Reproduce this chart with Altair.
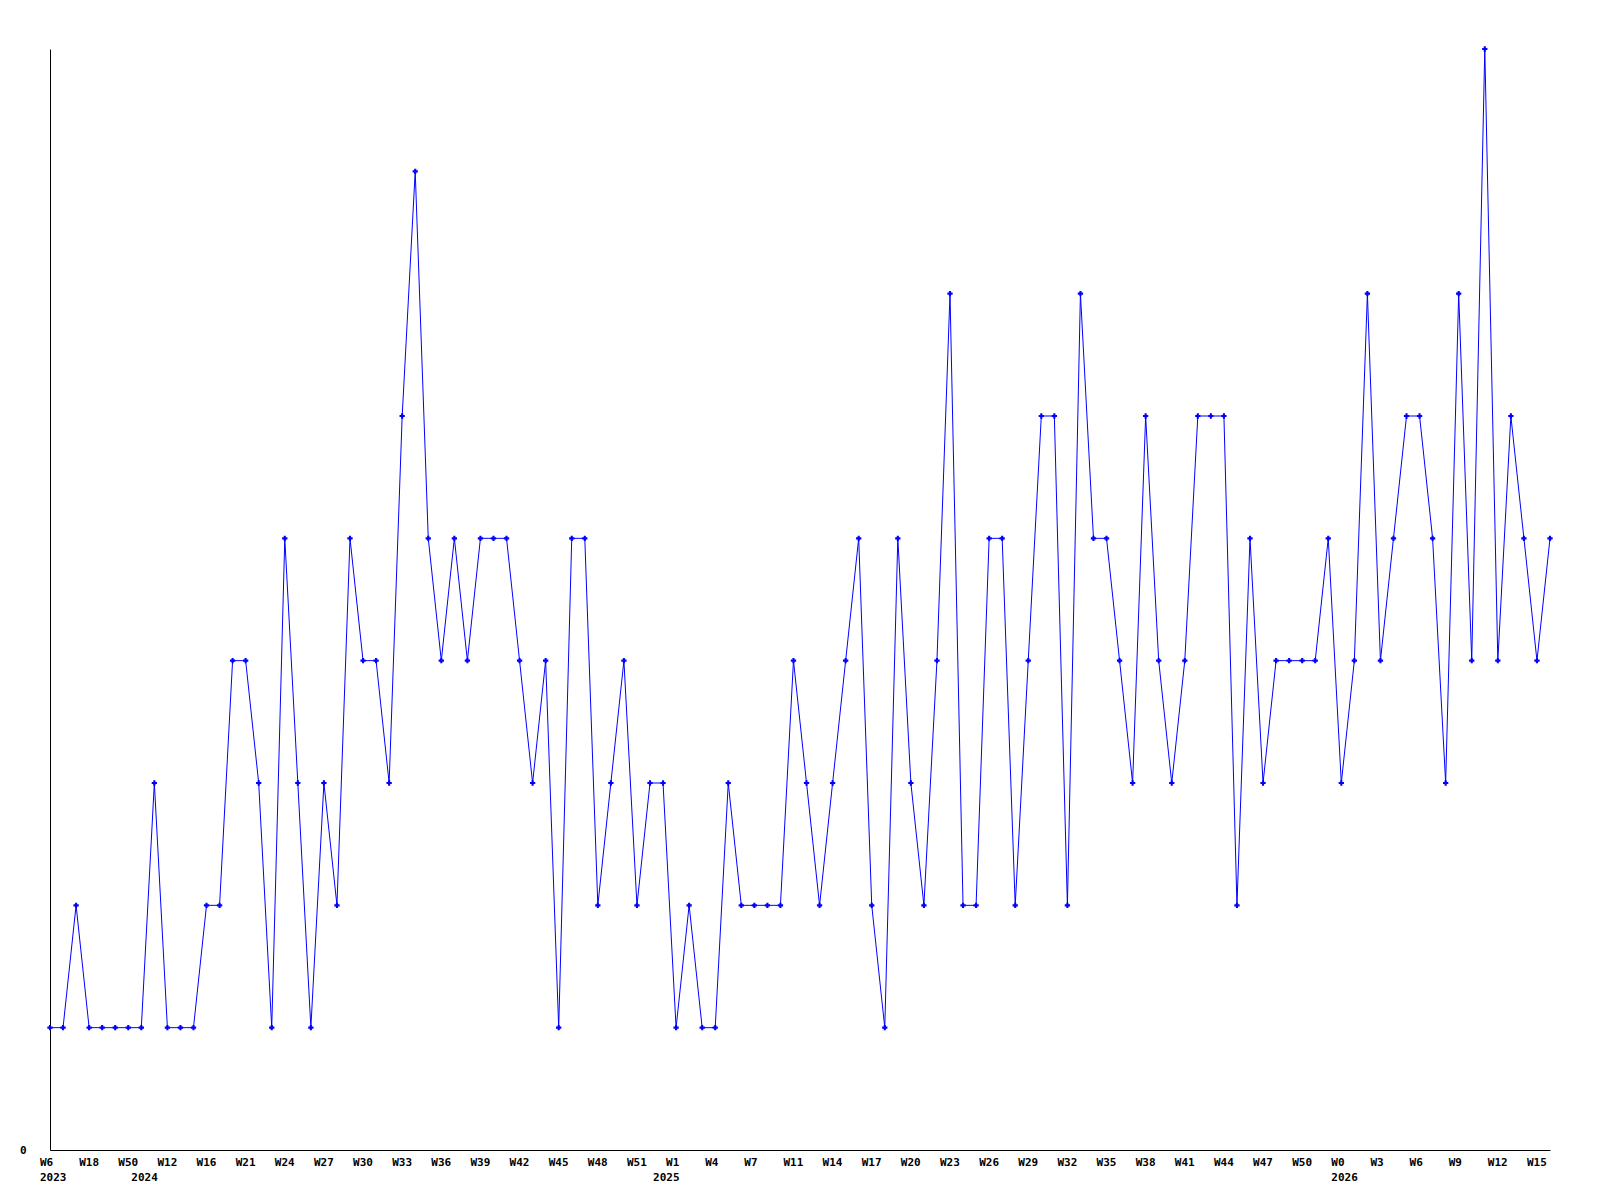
import altair as alt
import pandas as pd

# Weekly counts (one point per week, in order)
values = [1, 1, 2, 1, 1, 1, 1, 1, 3, 1,
          1, 1, 2, 2, 4, 4, 3, 1, 5, 3,
          1, 3, 2, 5, 4, 4, 3, 6, 8, 5,
          4, 5, 4, 5, 5, 5, 4, 3, 4, 1,
          5, 5, 2, 3, 4, 2, 3, 3, 1, 2,
          1, 1, 3, 2, 2, 2, 2, 4, 3, 2,
          3, 4, 5, 2, 1, 5, 3, 2, 4, 7,
          2, 2, 5, 5, 2, 4, 6, 6, 2, 7,
          5, 5, 4, 3, 6, 4, 3, 4, 6, 6,
          6, 2, 5, 3, 4, 4, 4, 4, 5, 3,
          4, 7, 4, 5, 6, 6, 5, 3, 7, 4,
          9, 4, 6, 5, 4, 5]

# Week tick labels, shown on every third point
week_labels = ["W6", "W18", "W50", "W12", "W16", "W21", "W24", "W27", "W30",
               "W33", "W36", "W39", "W42", "W45", "W48", "W51", "W1", "W4",
               "W7", "W11", "W14", "W17", "W20", "W23", "W26", "W29", "W32",
               "W35", "W38", "W41", "W44", "W47", "W50", "W0", "W3", "W6",
               "W9", "W12", "W15"]
label_step = 3

# Year labels and the point index where each year starts
year_labels = ["2023", "2024", "2025", "2026"]
year_index = [0, 7, 47, 99]

n = len(values)
df = pd.DataFrame({"idx": list(range(n)), "count": values})

# Build multi-line tick labels: first line = week, second line = year
lines = {}
for k, w in enumerate(week_labels):
    lines[k * label_step] = [w, ""]
for y, i in zip(year_labels, year_index):
    lines.setdefault(i, ["", ""])
    lines[i][1] = y
tick_vals = sorted(lines.keys())

def js_list(lst):
    return "[" + ",".join("'" + s + "'" for s in lst) + "]"

arr = ["''"] * n
for i, l in lines.items():
    if l[1] == "":
        arr[i] = "'" + l[0] + "'"
    else:
        arr[i] = js_list(l)
label_expr = "[" + ",".join(arr) + "][datum.value]"

font = "DejaVu Sans Mono"
W, H = 1500, 1101

x_scale = alt.Scale(domain=[0, n - 1], nice=False, zero=False)
y_scale = alt.Scale(domain=[0, 9], nice=False)

x_axis = alt.Axis(
    values=tick_vals, labelExpr=label_expr, title=None, grid=False, ticks=False,
    domainColor="black", domainWidth=1,
    labelFont=font, labelFontSize=11, labelFontWeight="bold", labelColor="black",
    labelPadding=6, labelLineHeight=15, labelBaseline="top", labelAlign="left",
    labelOffset=-10.5, labelOverlap=False, labelFlush=False, labelBound=False,
)
y_axis = alt.Axis(
    values=[0], format="d", title=None, grid=False, ticks=False,
    domainColor="black", domainWidth=1,
    labelFont=font, labelFontSize=11, labelFontWeight="bold", labelColor="black",
    labelPadding=24, labelBaseline="middle", labelOverlap=False,
)

base = alt.Chart(df).encode(
    x=alt.X("idx:Q", scale=x_scale, axis=x_axis),
    y=alt.Y("count:Q", scale=y_scale, axis=y_axis),
)
line = base.mark_line(color="#0000ff", strokeWidth=1)
pts = base.mark_point(shape="cross", filled=True, size=28, color="#0000ff", opacity=1)

chart = (
    alt.layer(line, pts)
    .properties(
        width=W,
        height=H,
        autosize=alt.AutoSizeParams(type="none"),
        padding={"left": 42, "top": 41, "right": 42, "bottom": 42},
        background="white",
    )
    .configure_view(stroke=None)
    .configure_axis(labelOverlap=False)
)

chart.save("out.html", embed_options={"renderer": "svg", "actions": False})
